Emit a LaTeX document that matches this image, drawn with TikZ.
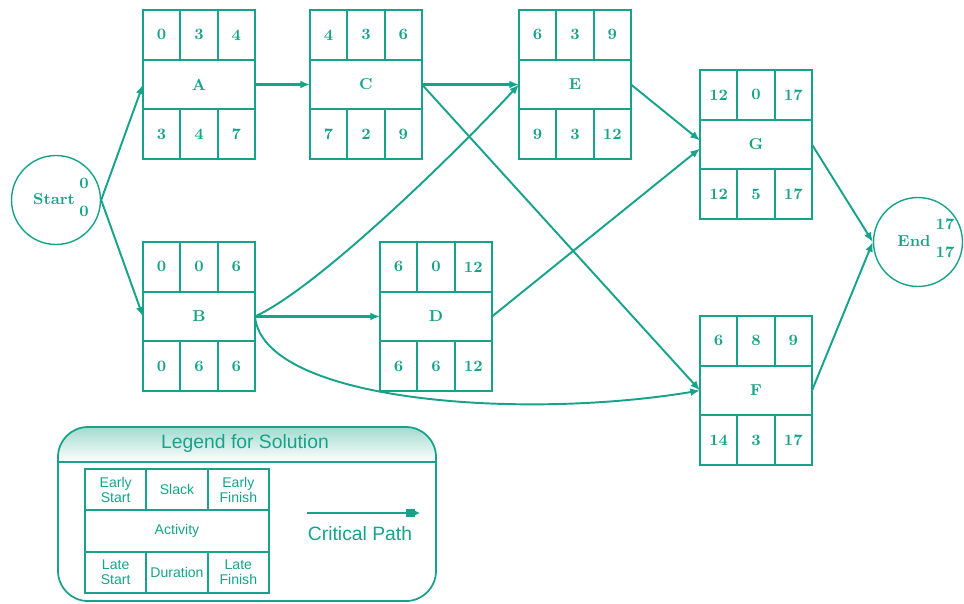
\documentclass[tikz,border=0pt]{standalone}
\usepackage{fontspec}
\newfontfamily\legendfont{Liberation Sans}
\usetikzlibrary{arrows.meta}
\definecolor{pert}{RGB}{22,163,137}

\begin{document}
\begin{tikzpicture}[x=0.02cm, y=-0.02cm, >={Latex[length=5.5pt,width=4.5pt]},
  every node/.style={text=pert},
  cell/.style={draw=pert, line width=1.1pt, minimum width=0.7467cm, minimum height=0.9933cm, inner sep=0pt, outer sep=0pt, font=\small\bfseries},
  actmid/.style={cell, minimum width=2.24cm},
  event/.style={draw=pert, line width=0.8pt, circle, minimum size=1.78cm, inner sep=0pt},
  evtext/.style={font=\small\bfseries, inner sep=1pt},
  link/.style={draw=pert, line width=1.1pt, ->},
  legcell/.style={draw=pert, line width=1.1pt, minimum width=1.2267cm, minimum height=0.8267cm, inner sep=0pt, outer sep=0pt, align=center, font=\legendfont\footnotesize\linespread{0.9}\selectfont}]
  \useasboundingbox (0,0) rectangle (964,603);

  \foreach \n/\x/\y/\es/\sk/\ef/\ls/\du/\lf in {A/143/10/0/3/4/3/4/7, C/310/10/4/3/6/7/2/9, E/519/10/6/3/9/9/3/12, B/143/242/0/0/6/0/6/6, D/380/242/6/0/12/6/6/12, G/700/70/12/0/17/12/5/17, F/700/316/6/8/9/14/3/17} {
    \node[actmid] (\n) at (\x+56,\y+74.5) {\n};
    \node[cell] (\n-es) at (\x+18.67,\y+24.83) {\es};
    \node[cell] (\n-sk) at (\x+56,\y+24.83) {\sk};
    \node[cell] (\n-ef) at (\x+93.33,\y+24.83) {\ef};
    \node[cell] (\n-ls) at (\x+18.67,\y+124.17) {\ls};
    \node[cell] (\n-du) at (\x+56,\y+124.17) {\du};
    \node[cell] (\n-lf) at (\x+93.33,\y+124.17) {\lf};
  }

  \node[event] (start) at (56,200) {};
  \node[evtext] (start-lab) at (54,199) {Start};
  \node[evtext] (start-es) at (84,183) {0};
  \node[evtext] (start-ef) at (84,211) {0};
  \node[event] (end) at (918,242) {};
  \node[evtext] (end-lab) at (914,241) {End};
  \node[evtext] (end-es) at (945,224) {17};
  \node[evtext] (end-ef) at (945,252) {17};

  \draw[link] (start.east) -- (A.west);
  \draw[link] (start.east) -- (B.west);
  \draw[link, line width=1.4pt] (A) -- (C);
  \draw[link, line width=1.4pt] (C) -- (E);
  \draw[link] (C.east) -- (F.west);
  \draw[link] (B.east) .. controls +(65,-30) and +(-59,64) .. (E.west);
  \draw[link, line width=1.4pt] (B) -- (D);
  \draw[link] (B.east) .. controls +(8,85) and +(-180,30) .. (F.west);
  \draw[link] (E.east) -- ([yshift=0.08cm]G.west);
  \draw[link] (D.east) -- ([yshift=-0.08cm]G.west);
  \draw[link] (G.east) -- (end.west);
  \draw[link] (F.east) -- (end.west);

  \begin{scope}
    \clip[rounded corners=0.6cm] (58,427) rectangle (436,601);
    \shade[top color=pert!40, bottom color=white] (58,427) rectangle (436,462);
  \end{scope}
  \draw[pert, line width=1pt, rounded corners=0.6cm] (58,427) rectangle (436,601);
  \draw[pert, line width=1pt] (58,462) -- (436,462);
  \node[font=\legendfont\fontsize{11}{13}\selectfont] (leg-title) at (245,443) {Legend for Solution};

  \node[legcell] (leg-es) at (115.67,489.67) {Early\\Start};
  \node[legcell] (leg-sk) at (177,489.67) {Slack};
  \node[legcell] (leg-ef) at (238.33,489.67) {Early\\Finish};
  \node[legcell, minimum width=3.68cm] (leg-act) at (177,531) {Activity};
  \node[legcell] (leg-ls) at (115.67,572.33) {Late\\Start};
  \node[legcell] (leg-du) at (177,572.33) {Duration};
  \node[legcell] (leg-lf) at (238.33,572.33) {Late\\Finish};

  \coordinate (cp-from) at (307,513);
  \coordinate (cp-to) at (420,513);
  \draw[pert, line width=1pt, -{Rectangle[length=5pt,width=4pt]Latex[length=3pt,width=3pt]}] (cp-from) -- (cp-to);
  \node[font=\legendfont\fontsize{11}{13}\selectfont] (cp-lab) at (360,534) {Critical Path};
\end{tikzpicture}
\end{document}
